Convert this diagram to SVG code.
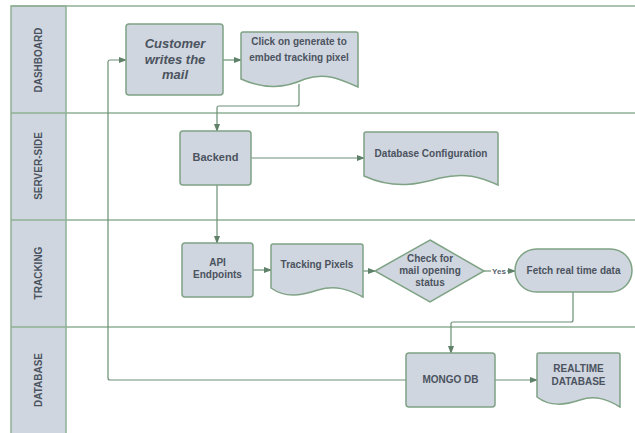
<svg xmlns="http://www.w3.org/2000/svg" width="635" height="433" viewBox="0 0 635 433">
<style>
.lane{fill:none;stroke:#8fb095;stroke-width:1.5}
.hdr{fill:#d0d6df;stroke:#8fb095;stroke-width:1.5}
.node{fill:#d0d6df;stroke:#7fa385;stroke-width:1.5}
.t{font-family:"Liberation Sans",Arial,sans-serif;font-weight:bold;font-size:10px;fill:#4b5360;text-anchor:middle}
.lt{font-family:"Liberation Sans",Arial,sans-serif;font-weight:bold;font-size:10px;fill:#4b5360;text-anchor:middle}
.c{fill:none;stroke:#6b8f76;stroke-width:1.2}
</style>
<defs>
<marker id="ah" markerWidth="8" markerHeight="6" refX="7" refY="3" orient="auto" markerUnits="userSpaceOnUse">
<path d="M0,0 L8,3 L0,6 Z" fill="#5f8069"/>
</marker>
</defs>
<rect width="635" height="433" fill="#ffffff"/>
<g id="lanes">
<rect class="hdr" x="11" y="6" width="55" height="440"/>
<line class="lane" x1="11" y1="6" x2="640" y2="6"/>
<line class="lane" x1="11" y1="113" x2="640" y2="113"/>
<line class="lane" x1="11" y1="220" x2="640" y2="220"/>
<line class="lane" x1="11" y1="327" x2="640" y2="327"/>
<text class="lt" transform="translate(42,60) rotate(-90)">DASHBOARD</text>
<text class="lt" transform="translate(42,166) rotate(-90)">SERVER-SIDE</text>
<text class="lt" transform="translate(42,273) rotate(-90)">TRACKING</text>
<text class="lt" transform="translate(42,380) rotate(-90)">DATABASE</text>
</g>
<g id="connectors">
<path class="c" d="M406,380 L110,380 Q108,380 108,378 L108,62 Q108,60 110,60 L126,60" marker-end="url(#ah)"/>
<path class="c" d="M223,60 L241,60" marker-end="url(#ah)"/>
<path class="c" d="M299,84 L299,104 Q299,106 297,106 L219,106 Q217,106 217,108 L217,131" marker-end="url(#ah)"/>
<path class="c" d="M251,158 L364,158" marker-end="url(#ah)"/>
<path class="c" d="M217,185 L217,243" marker-end="url(#ah)"/>
<path class="c" d="M253,270 L271,270" marker-end="url(#ah)"/>
<path class="c" d="M363,271 L375,271" marker-end="url(#ah)"/>
<path class="c" d="M484,271 L515,271" marker-end="url(#ah)"/>
<rect x="491" y="266" width="16" height="9" fill="#ffffff"/>
<text x="499" y="274" font-family="'Liberation Sans',Arial,sans-serif" font-size="8" font-weight="bold" fill="#5a6370" text-anchor="middle">Yes</text>
<path class="c" d="M573,292 L573,320 Q573,322 571,322 L453,322 Q451,322 451,324 L451,353" marker-end="url(#ah)"/>
<path class="c" d="M495,380 L537,380" marker-end="url(#ah)"/>
</g>
<g id="customer">
<rect class="node" x="126" y="24" width="97" height="71" rx="3"/>
<text class="t" style="font-size:13px;font-style:italic" x="175" y="48">Customer</text>
<text class="t" style="font-size:13px;font-style:italic" x="175" y="64">writes the</text>
<text class="t" style="font-size:13px;font-style:italic" x="175" y="79">mail</text>
</g>
<g id="click-generate">
<path class="node" d="M241,34 Q241,32 243,32 L356,32 Q358,32 358,34 L358,87 C340,79 325,72 305,79 C285,88 265,90 241,79 Z"/>
<text class="t" x="299" y="45">Click on generate to</text>
<text class="t" x="299" y="61">embed tracking pixel</text>
</g>
<g id="backend">
<rect class="node" x="180" y="131" width="71" height="54" rx="3"/>
<text class="t" style="font-size:11px" x="215.5" y="161">Backend</text>
</g>
<g id="db-config">
<path class="node" d="M364,134 Q364,132 366,132 L496,132 Q498,132 498,134 L498,185 C480,177 465,172 440,178 C420,184 395,190 364,176 Z"/>
<text class="t" x="431" y="157">Database Configuration</text>
</g>
<g id="api-endpoints">
<rect class="node" x="182" y="243" width="71" height="54" rx="3"/>
<text class="t" x="217.5" y="266">API</text>
<text class="t" x="217.5" y="278">Endpoints</text>
</g>
<g id="tracking-pixels">
<path class="node" d="M271,246 Q271,244 273,244 L361,244 Q363,244 363,246 L363,297 C348,289 335,285 318,290 C300,296 285,298 271,288 Z"/>
<text class="t" x="317" y="268">Tracking Pixels</text>
</g>
<g id="check-status">
<path class="node" d="M430,240 L484,271 L430,302 L375,271 Z"/>
<text class="t" x="430" y="262">Check for</text>
<text class="t" x="430" y="274">mail opening</text>
<text class="t" x="430" y="286">status</text>
</g>
<g id="fetch-data">
<rect class="node" x="515" y="249" width="117" height="43" rx="21.5"/>
<text class="t" x="573.5" y="274">Fetch real time data</text>
</g>
<g id="mongo-db">
<rect class="node" x="406" y="353" width="89" height="54" rx="3"/>
<text class="t" x="450.5" y="383">MONGO DB</text>
</g>
<g id="realtime-db">
<path class="node" d="M537,355 Q537,353 539,353 L618,353 Q620,353 620,355 L620,407 C607,399 595,395 580,400 C565,405 550,407 537,397 Z"/>
<text class="t" x="578.5" y="372">REALTIME</text>
<text class="t" x="578.5" y="385">DATABASE</text>
</g>
</svg>
